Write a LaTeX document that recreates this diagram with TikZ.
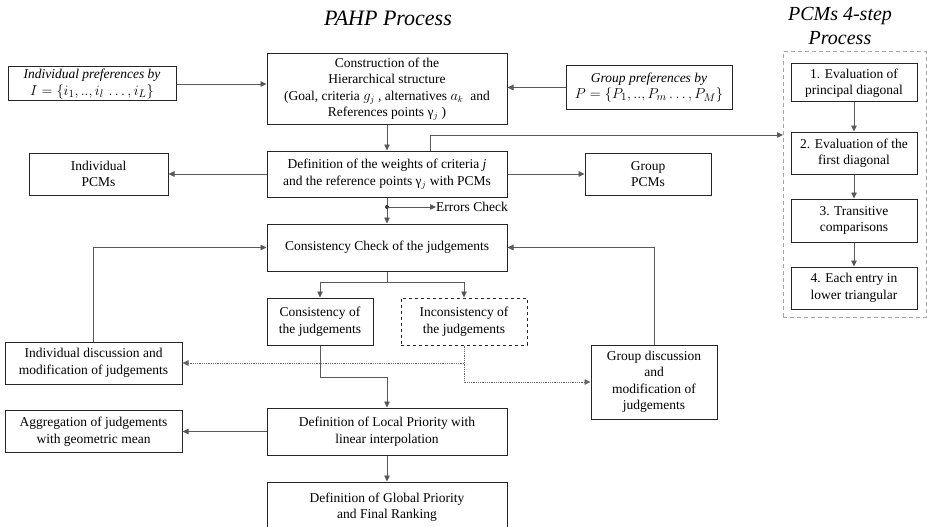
\documentclass[tikz,border=0pt]{standalone}
\usepackage{fontspec}
\setmainfont{Liberation Serif}
\usetikzlibrary{arrows.meta,calc}
\begin{document}
\begin{tikzpicture}[x=1pt,y=-1pt,
  every node/.style={font=\fontsize{13.5}{16.5}\selectfont, inner sep=0pt},
  bx/.style={draw=black!85, line width=1pt, align=center},
  ln/.style={draw=black!65, line width=0.8pt},
  arr/.style={ln, -{Triangle[length=6pt,width=5.5pt]}},
  darr/.style={draw=black!60, line width=0.8pt, densely dotted, -{Triangle[length=6pt,width=5.5pt]}},
  ttl/.style={font=\fontsize{22}{24}\selectfont\itshape, align=center}]
\useasboundingbox (0,0) rectangle (927,527);
\fill[white] (0,0) rectangle (927,527);
% titles
\node[ttl] (t1) at (388,18) {PAHP Process};
\node[ttl, font=\fontsize{20}{24}\selectfont\itshape] (t2) at (840,26) {PCMs 4-step\\Process};
% main boxes
\node[bx, minimum width=168, minimum height=34] (ind) at (92,84)
  {\textit{Individual preferences by}\\{\fontsize{15.5}{16.5}\selectfont$I=\{i_1,..,i_l\,\ldots,i_L\}$}};
\node[bx, minimum width=240, minimum height=70] (cons) at (387,89)
  {Construction of the\\Hierarchical structure\\(Goal, criteria $g_j$ , alternatives $a_k$ \ and\\References points γ$_j$ )};
\node[bx, minimum width=166, minimum height=43] (grp) at (649,87.5)
  {\textit{Group preferences by}\\{\fontsize{15.5}{16.5}\selectfont$P=\{P_1,..,P_m\ldots,P_M\}$}};
\node[bx, minimum width=240, minimum height=46] (def) at (387,174)
  {Definition of the weights of criteria \textit{j}\\and the reference points γ$_j$ with PCMs};
\node[bx, minimum width=139, minimum height=42] (ipcm) at (98.5,174) {Individual\\PCMs};
\node[bx, minimum width=126, minimum height=42] (gpcm) at (648,174) {Group\\PCMs};
\node[anchor=west] (err) at (436,207) {Errors Check};
\node[bx, minimum width=240, minimum height=47] (cc) at (387,247.5) {Consistency Check of the judgements};
\node[bx, minimum width=106, minimum height=47] (coj) at (320,321.5) {Consistency of\\the judgements};
\node[bx, dashed, minimum width=126, minimum height=47] (incj) at (464,321.5) {Inconsistency of\\the judgements};
\node[bx, minimum width=177, minimum height=42] (idm) at (93.5,363) {Individual discussion and\\modification of judgements};
\node[bx, minimum width=126, minimum height=74] (gdm) at (654,382) {Group discussion\\and\\modification of\\judgements};
\node[bx, minimum width=240, minimum height=47] (lp) at (387,431.5) {Definition of Local Priority with\\linear interpolation};
\node[bx, minimum width=177, minimum height=42] (agg) at (93.5,431.5) {Aggregation of judgements\\with geometric mean};
\node[bx, minimum width=240, minimum height=50] (gp) at (387,507) {Definition of Global Priority\\and Final Ranking};
% PCM steps
\node[draw=black!35, line width=1pt, dash pattern=on 4pt off 3pt, minimum width=143, minimum height=265] (pcmbox) at (854.5,184.5) {};
\node[bx, minimum width=126, minimum height=38] (s1) at (854,83) {1. Evaluation of\\principal diagonal};
\node[bx, minimum width=126, minimum height=42] (s2) at (854,153) {2. Evaluation of the\\first diagonal};
\node[bx, minimum width=126, minimum height=43] (s3) at (854,220.5) {3. Transitive\\comparisons};
\node[bx, minimum width=126, minimum height=42] (s4) at (854,288) {4. Each entry in\\lower triangular};
% coordinates
\coordinate (d1) at (430,151);
\coordinate (pin) at (783,135);
\coordinate (edot) at (387,207);
\coordinate (br) at (387,282);
\coordinate (j1) at (387,377);
\coordinate (k1) at (464,363);
% connectors
\draw[arr] (ind.east) -- (ind.east -| cons.west);
\draw[arr] (grp.west) -- (grp.west -| cons.east);
\draw[arr] (cons.south) -- (def.north);
\draw[arr] (def.west) -- (ipcm.east);
\draw[arr] (def.east) -- (gpcm.west);
\draw[arr] (d1) |- (pin);
\draw[arr] (def.south) -- (cc.north);
\fill[black!80] (edot) circle (2);
\draw[arr] (edot) -- (err.west);
\draw[ln] (cc.south) -- (br);
\draw[arr] (br) -| (coj.north);
\draw[arr] (br) -| (incj.north);
\draw[arr] (idm.north) |- (cc.west);
\draw[arr] (gdm.north) |- (cc.east);
\draw[arr] (coj.south) |- (j1) -- (lp.north);
\draw[darr] (k1) -- (k1 -| idm.east);
\draw[darr] (incj.south) |- (gdm.west);
\draw[arr] (lp.west) -- (agg.east);
\draw[arr] (lp.south) -- (gp.north);
\draw[arr] (s1) -- (s2);
\draw[arr] (s2) -- (s3);
\draw[arr] (s3) -- (s4);
\end{tikzpicture}
\end{document}
